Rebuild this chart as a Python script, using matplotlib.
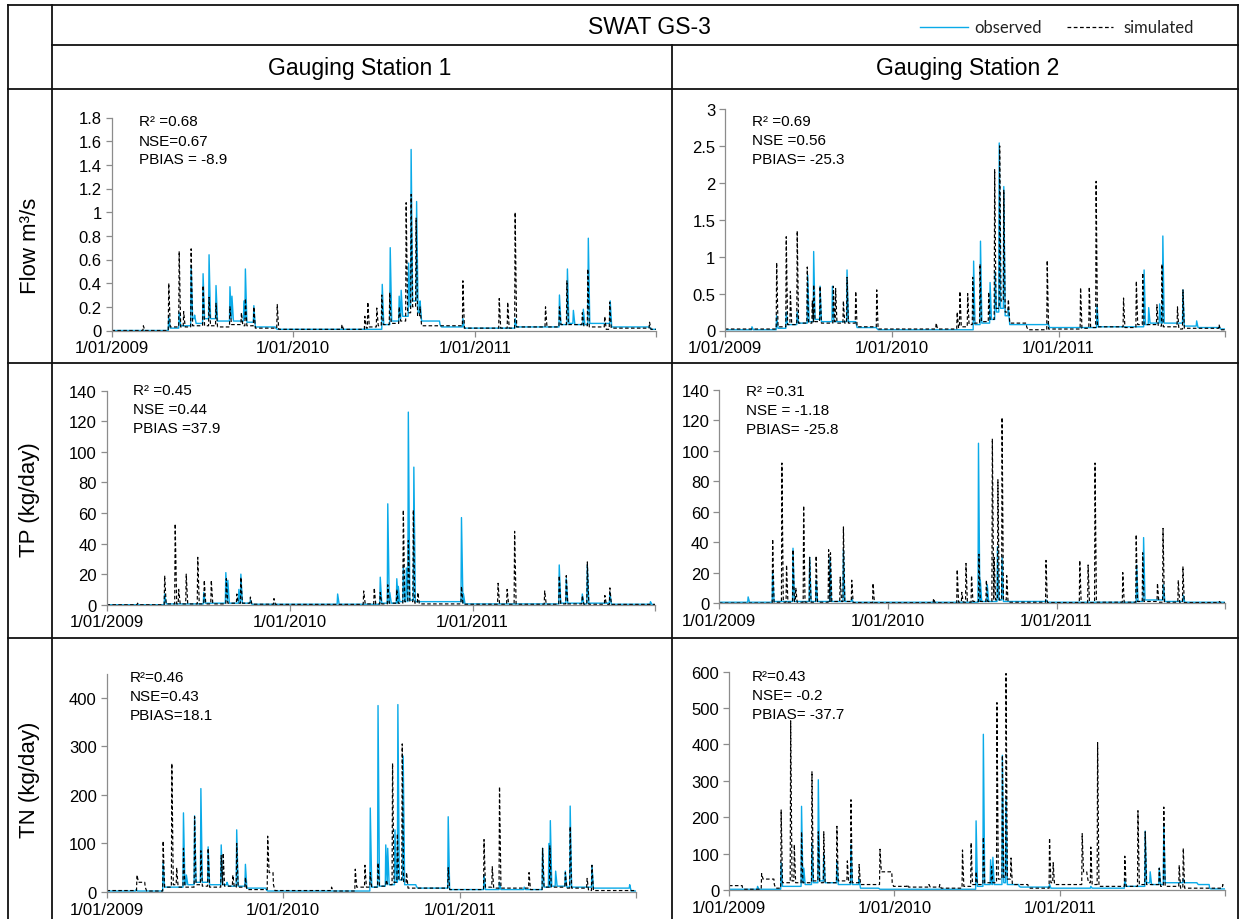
import matplotlib
matplotlib.use('Agg')
import matplotlib.pyplot as plt
import numpy as np
from matplotlib.lines import Line2D

plt.rcParams['font.family'] = ['Liberation Sans', 'DejaVu Sans']

# events: (day since 1/01/2009, peak value, level after the peak)
flow_gs1_obs = [(0, 0.0, 0.0), (115, .12, .02), (136, .15, .04), (160, .55, .10), (167, .13, .06),
                (184, .48, .10), (196, .64, .10), (210, .38, .08), (238, .37, .10), (242, .29, .08),
                (266, .25, .10), (269, .52, .07), (286, .21, .03), (330, .02, .01), (544, .39, .05),
                (560, .70, .08), (578, .29, .10), (582, .34, .12), (597, .57, .20), (602, 1.53, .25),
                (613, 1.09, .15), (620, .25, .08), (660, .05, .03), (706, .10, .02), (811, .10, .03),
                (900, .30, .05), (916, .52, .06), (928, .17, .05), (948, .18, .05), (958, .78, .06),
                (1002, .25, .03), (1081, .03, .01)]
flow_gs1_sim = [(0, 0.0, 0.0), (64, .04, .0), (115, .40, .03), (136, .67, .03), (145, .16, .03),
                (160, .69, .04), (184, .38, .04), (196, .28, .04), (210, .23, .03), (238, .20, .05),
                (261, .15, .04), (269, .27, .04), (286, .20, .02), (333, .22, .01), (463, .05, .01),
                (509, .12, .02), (515, .24, .03), (533, .19, .04), (543, .30, .05), (559, .32, .06),
                (578, .20, .08), (592, 1.08, .15), (602, 1.15, .20), (612, .95, .12), (620, .20, .04),
                (706, .42, .02), (779, .27, .02), (796, .24, .02), (811, 1.00, .03), (872, .20, .03),
                (900, .20, .05), (915, .42, .05), (946, .15, .04), (957, .52, .03), (991, .12, .01),
                (1001, .24, .02), (1081, .07, .01)]

flow_gs2_obs = [(0, .01, .01), (59, .05, .01), (113, .20, .03), (134, .25, .08), (158, .25, .10),
                (181, .75, .12), (194, 1.07, .15), (208, .60, .12), (235, .60, .12), (267, .82, .12),
                (286, .12, .04), (332, .03, .01), (544, .94, .08), (559, 1.21, .10), (580, .65, .15),
                (591, .80, .25), (600, 2.54, .30), (610, 1.95, .20), (620, .30, .08), (707, .10, .04),
                (814, .35, .05), (917, .82, .08), (927, .31, .10), (951, .36, .10), (958, 1.28, .10),
                (1002, .55, .06), (1032, .13, .04), (1081, .05, .02)]
flow_gs2_sim = [(0, .02, .02), (113, .92, .05), (134, 1.27, .08), (143, .53, .08), (158, 1.35, .10),
                (180, .86, .10), (191, .40, .12), (194, .62, .12), (208, .60, .10), (237, .60, .12),
                (242, .57, .10), (259, .40, .10), (267, .72, .10), (286, .53, .05), (332, .55, .02),
                (462, .10, .02), (508, .25, .04), (514, .53, .05), (531, .50, .08), (542, .72, .10),
                (558, .90, .12), (577, .52, .15), (590, 2.18, .30), (601, 2.50, .40), (610, 1.90, .25),
                (620, .42, .10), (660, .05, .01), (705, .95, .02), (778, .58, .03), (797, .59, .04),
                (812, 2.02, .05), (872, .44, .04), (900, .67, .08), (914, .78, .08), (945, .35, .06),
                (956, .90, .05), (990, .32, .02), (1002, .55, .03), (1081, .08, .01)]

tp_gs1_obs = [(0, 0, 0), (116, 7, .5), (194, 8, 1), (238, 21, 2), (242, 16, 1), (264, 10, 1),
              (268, 20, 1), (287, 3, .3), (461, 7, .3), (546, 18, 1), (561, 66, 1), (565, 8, 1),
              (579, 17, 1), (582, 12, 2), (592, 24, 2), (598, 24, 2), (602, 126, 3), (613, 90, 2),
              (708, 57, 1), (712, 7, .5), (903, 26, 1), (917, 17, 1), (949, 7, .5), (959, 26, 1),
              (1004, 8, .3), (1085, 2, .1)]
tp_gs1_sim = [(0, 0, 0), (62, 1, 0), (116, 19, .5), (137, 53, .5), (144, 10, .5), (159, 20, .5),
              (182, 31, .5), (195, 16, .5), (209, 16, .5), (239, 17, 1), (260, 7, 1), (268, 18, 1),
              (287, 5, .3), (334, 4, .2), (513, 9, .5), (534, 11, .5), (546, 8, .5), (561, 13, 1),
              (579, 10, 1), (592, 62, 2), (602, 42, 2), (612, 62, 1), (621, 8, .5), (708, 12, .3),
              (781, 14, .3), (799, 10, .3), (814, 48, .3), (874, 9, .3), (903, 19, .5), (917, 19, .5),
              (949, 6, .3), (959, 28, .3), (994, 6, .2), (1004, 11, .2)]

tp_gs2_obs = [(0, .5, .5), (63, 4, .5), (116, 20, 1), (160, 36, 1), (196, 30, 1), (210, 15, 1),
              (240, 30, 1), (269, 35, 1), (287, 3, .5), (561, 105, 1), (565, 15, 1), (580, 12, 1),
              (602, 37, 2), (612, 30, 1), (707, 2, .5), (903, 25, 1), (918, 43, 2), (961, 12, 1),
              (1004, 5, .5)]
tp_gs2_sim = [(0, 0, 0), (116, 42, .5), (136, 92, .5), (146, 25, .5), (160, 35, 1), (166, 10, .5),
              (183, 64, .5), (196, 30, .5), (210, 31, .5), (237, 35, 1), (241, 33, 1), (262, 17, 1),
              (269, 50, 1), (287, 15, .3), (333, 13, .2), (464, 3, .2), (515, 22, .5), (525, 7, .5),
              (534, 26, .5), (546, 18, 1), (562, 32, 1), (578, 15, 1), (591, 108, 2), (595, 30, 2),
              (603, 81, 2), (612, 122, 2), (622, 18, .5), (707, 28, .3), (780, 28, .3), (798, 25, .3),
              (813, 92, .5), (873, 20, .5), (902, 45, 1), (916, 33, 1), (948, 13, .5), (960, 49, .5),
              (993, 15, .3), (1003, 24, .3), (1082, 1, .1)]

tn_gs1_obs = [(0, 2, 2), (61, 5, 2), (117, 60, 10), (159, 163, 15), (165, 35, 15), (182, 157, 20),
              (195, 213, 20), (210, 93, 15), (237, 97, 15), (249, 20, 12), (269, 128, 12), (287, 57, 8),
              (330, 5, 2), (545, 173, 10), (561, 384, 12), (577, 97, 15), (581, 90, 15), (596, 128, 20),
              (602, 386, 25), (613, 280, 15), (640, 12, 8), (706, 155, 5), (780, 35, 5), (812, 20, 5),
              (863, 10, 5), (901, 90, 10), (914, 100, 10), (917, 147, 12), (928, 43, 12), (948, 43, 10),
              (958, 177, 10), (1003, 55, 8), (1081, 15, 2)]
tn_gs1_sim = [(0, 3, 3), (63, 35, 20), (80, 10, 2), (117, 105, 10), (135, 265, 15), (145, 50, 10),
              (159, 90, 10), (182, 155, 15), (195, 85, 12), (210, 90, 10), (237, 75, 15), (241, 80, 12),
              (261, 35, 10), (269, 100, 10), (287, 30, 5), (333, 115, 40), (345, 15, 3), (465, 10, 2),
              (514, 47, 10), (534, 55, 10), (545, 40, 10), (561, 60, 12), (578, 25, 15), (591, 265, 20),
              (601, 120, 25), (611, 305, 20), (620, 40, 8), (706, 50, 5), (780, 108, 10), (797, 52, 8),
              (812, 217, 8), (873, 40, 5), (901, 90, 10), (916, 95, 10), (948, 40, 8), (958, 135, 8),
              (993, 28, 3), (1003, 55, 3)]

tn_gs2_obs = [(0, 2, 2), (63, 10, 2), (115, 75, 10), (160, 230, 20), (165, 60, 15), (183, 130, 20),
              (197, 303, 25), (209, 100, 20), (238, 80, 15), (269, 125, 15), (287, 30, 5), (330, 5, 2),
              (545, 190, 10), (561, 428, 15), (577, 83, 15), (582, 90, 15), (603, 370, 20), (611, 250, 15),
              (640, 10, 8), (707, 15, 5), (798, 10, 5), (873, 30, 10), (918, 162, 20), (929, 50, 15),
              (949, 60, 15), (959, 180, 20), (1002, 30, 20), (1032, 20, 15), (1060, 5, 3)]
tn_gs2_sim = [(0, 12, 12), (30, 5, 2), (72, 45, 30), (100, 15, 5), (115, 220, 20), (136, 465, 25),
              (144, 125, 20), (160, 160, 20), (183, 325, 25), (197, 160, 20), (209, 160, 20), (238, 175, 25),
              (261, 80, 20), (269, 248, 20), (287, 70, 15), (333, 112, 50), (360, 20, 10), (393, 15, 8),
              (441, 15, 8), (465, 15, 5), (515, 110, 10), (534, 130, 15), (545, 50, 15), (561, 145, 20),
              (579, 65, 20), (591, 515, 30), (603, 370, 35), (611, 595, 30), (622, 88, 15), (660, 10, 5),
              (707, 143, 20), (715, 75, 15), (779, 155, 50), (790, 40, 20), (798, 118, 15), (813, 405, 10),
              (873, 93, 10), (902, 218, 15), (918, 160, 15), (949, 60, 10), (959, 228, 10), (993, 68, 5),
              (1002, 115, 5), (1089, 15, 10)]

stats = {
    'flow1': ['R² =0.68', 'NSE=0.67', 'PBIAS = -8.9'],
    'flow2': ['R² =0.69', 'NSE =0.56', 'PBIAS= -25.3'],
    'tp1': ['R² =0.45', 'NSE =0.44', 'PBIAS =37.9'],
    'tp2': ['R² =0.31', 'NSE = -1.18', 'PBIAS= -25.8'],
    'tn1': ['R²=0.46', 'NSE=0.43', 'PBIAS=18.1'],
    'tn2': ['R²=0.43', 'NSE= -0.2', 'PBIAS= -37.7'],
}
xtick_dates = ['2009-01-01', '2010-01-01', '2011-01-01', '2011-12-31']
xtick_labels = ['1/01/2009', '1/01/2010', '1/01/2011', '']
row_labels = ['Flow m³/s', 'TP (kg/day)', 'TN (kg/day)']
col_labels = ['Gauging Station 1', 'Gauging Station 2']

W, H = 1239, 920
fig = plt.figure(figsize=(W / 100, H / 100), dpi=100)
start = np.datetime64('2009-01-01')
obs_col = '#0AAAE8'


def trace(events):
    xs, ys = [], []
    prev = events[0][2]
    for d, p, lo in events:
        xs += [d - 1, d, d + 3]
        ys += [prev, p, lo]
        prev = lo
    xs.append(1095)
    ys.append(prev)
    xs = np.clip(np.array(xs), 0, 1095)
    return start + xs.astype('timedelta64[D]'), ys


def hline(x0, x1, y):
    fig.add_artist(Line2D([x0 / W, x1 / W], [1 - y / H, 1 - y / H], color='#111111', lw=1.3))


def vline(x, y0, y1):
    fig.add_artist(Line2D([x / W, x / W], [1 - y0 / H, 1 - y1 / H], color='#111111', lw=1.3))


# table grid
hline(8, 1238, 5.5)
hline(52, 1238, 45.5)
hline(8, 1238, 90)
hline(8, 1238, 364)
hline(8, 1238, 639)
vline(8, 5.5, 920)
vline(52, 5.5, 920)
vline(672, 45.5, 920)
vline(1237.5, 5.5, 920)

fig.text(649 / W, 1 - 27 / H, 'SWAT GS-3', ha='center', va='center', fontsize=16.5)
fig.text(360 / W, 1 - 68 / H, col_labels[0], ha='center', va='center', fontsize=16.5)
fig.text(968 / W, 1 - 68 / H, col_labels[1], ha='center', va='center', fontsize=16.5)
for lab, yc in zip(row_labels, [246, 500, 780]):
    fig.text(30 / W, 1 - yc / H, lab, rotation=90, ha='center', va='center', fontsize=16)

# legend
fig.add_artist(Line2D([920 / W, 968 / W], [1 - 28 / H] * 2, color=obs_col, lw=1.0))
fig.text(974 / W, 1 - 28 / H, 'observed', ha='left', va='center', fontsize=12,
         family=['Lato', 'DejaVu Sans'], color='#222222')
fig.add_artist(Line2D([1067 / W, 1113 / W], [1 - 28 / H] * 2, color='k', lw=0.9, ls=(0, (3, 2))))
fig.text(1123 / W, 1 - 28 / H, 'simulated', ha='left', va='center', fontsize=12,
         family=['Lato', 'DejaVu Sans'], color='#222222')

# panels: (obs, sim, stats key, left, right, top, bottom px, ymax, ystep, ticktop, text x, text y)
panels = [
    (flow_gs1_obs, flow_gs1_sim, 'flow1', 111.5, 656, 118.5, 331.5, 1.8, 0.2, 1.8, 139, 122.5),
    (flow_gs2_obs, flow_gs2_sim, 'flow2', 725, 1225, 110, 331.5, 3, 0.5, 3, 752, 122),
    (tp_gs1_obs, tp_gs1_sim, 'tp1', 106.5, 655, 391.7, 605.7, 140, 20, 140, 133, 391),
    (tp_gs2_obs, tp_gs2_sim, 'tp2', 719, 1225, 391, 604, 140, 20, 140, 746, 392.5),
    (tn_gs1_obs, tn_gs1_sim, 'tn1', 106.5, 636, 674.5, 893, 450, 100, 400, 130, 678.5),
    (tn_gs2_obs, tn_gs2_sim, 'tn2', 729, 1225, 672.7, 891, 600, 100, 600, 752, 677),
]

for obs, sim, key, l, r, t, b, ymax, ystep, ttop, tx, ty in panels:
    ax = fig.add_axes([l / W, 1 - b / H, (r - l) / W, (b - t) / H])
    x, y = trace(obs)
    ax.plot(x, y, color=obs_col, lw=1.0)
    x, y = trace(sim)
    ax.plot(x, y, color='k', lw=0.85, ls=(0, (3, 2)))
    ax.set_xlim(np.datetime64('2009-01-01'), np.datetime64('2011-12-31'))
    ax.set_ylim(0, ymax)
    yt = np.arange(0, ttop + ystep / 2, ystep)
    ax.set_yticks(yt)
    ax.set_yticklabels([f'{v:g}' for v in np.round(yt, 2)])
    ax.set_xticks([np.datetime64(d) for d in xtick_dates])
    ax.set_xticklabels(xtick_labels)
    for s in ['top', 'right']:
        ax.spines[s].set_visible(False)
    for s in ['left', 'bottom']:
        ax.spines[s].set_color('#8c8c8c')
        ax.spines[s].set_linewidth(0.9)
    ax.tick_params(direction='out', length=4, width=0.9, color='#8c8c8c', labelsize=12, pad=3)
    ax.patch.set_alpha(0)
    for i, line in enumerate(stats[key]):
        fig.text(tx / W, 1 - (ty + 19 * i) / H, line, ha='left', va='center', fontsize=11)

fig.savefig('out.png', dpi=100)
